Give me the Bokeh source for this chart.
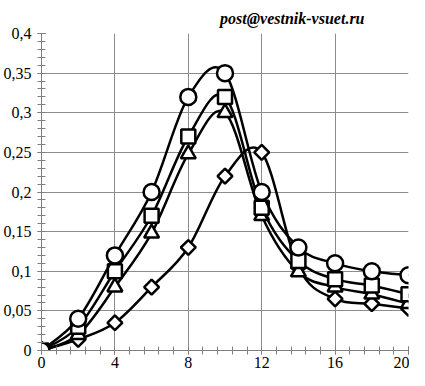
import numpy as np
from bokeh.plotting import figure
from bokeh.models import Range1d, FixedTicker, CustomJSTickFormatter
from bokeh.embed import file_html
from bokeh.resources import INLINE

# ---- data ----
x_vals = [0, 2, 4, 6, 8, 10, 12, 14, 16, 18, 20]
circles = [0, 0.040, 0.120, 0.200, 0.320, 0.350, 0.200, 0.130, 0.110, 0.100, 0.095]
squares = [0, 0.030, 0.100, 0.170, 0.270, 0.320, 0.180, 0.113, 0.090, 0.082, 0.071]
triangles = [0, 0.020, 0.080, 0.148, 0.248, 0.300, 0.170, 0.099, 0.080, 0.071, 0.059]
diamonds = [0, 0.014, 0.035, 0.080, 0.130, 0.220, 0.250, 0.105, 0.065, 0.059, 0.053]

x_ticks = [0, 4, 8, 12, 16, 20]
y_ticks = [0, 0.05, 0.1, 0.15, 0.2, 0.25, 0.3, 0.35, 0.4]
watermark = "post@vestnik-vsuet.ru"

SERIF = "Liberation Serif"

p = figure(width=409, height=370, output_backend="svg", toolbar_location=None,
           x_range=Range1d(0, 20), y_range=Range1d(0, 0.4),
           min_border_left=40, min_border_right=1, min_border_top=32, min_border_bottom=20)
p.outline_line_color = None
p.background_fill_color = "white"

p.title.text = watermark
p.title.align = "right"
p.title.offset = 44
p.title.text_font = SERIF
p.title.text_font_size = "16px"
p.title.text_font_style = "bold italic"
p.title.text_color = "black"
p.title.standoff = 14

# ticks
x_minor = list(np.round(np.arange(0, 20.0001, 0.8), 4))
y_minor = list(np.round(np.arange(0, 0.40001, 0.01), 4))
p.xaxis.ticker = FixedTicker(ticks=x_ticks, minor_ticks=x_minor)
p.yaxis.ticker = FixedTicker(ticks=y_ticks, minor_ticks=y_minor)
fmt = CustomJSTickFormatter(code="return String(Math.round(tick*100)/100).replace('.', ',');")
p.xaxis.formatter = fmt
p.yaxis.formatter = fmt

p.axis.axis_line_color = "#808080"
p.axis.axis_line_width = 1
p.axis.major_tick_line_color = "#808080"
p.axis.minor_tick_line_color = "#808080"
p.axis.major_tick_in = 4
p.axis.major_tick_out = 4
p.axis.minor_tick_in = 4
p.axis.minor_tick_out = 4
p.axis.major_label_text_font = SERIF
p.axis.major_label_text_font_size = "16px"
p.axis.major_label_text_color = "black"
p.xaxis.major_label_standoff = 2
p.yaxis.major_label_standoff = 6

p.xgrid.ticker = FixedTicker(ticks=x_ticks)
p.ygrid.ticker = FixedTicker(ticks=y_ticks)
p.grid.grid_line_color = "#8c8c8c"
p.grid.grid_line_width = 1


def smooth_segments(xs, ys):
    xs = np.asarray(xs, float)
    ys = np.asarray(ys, float)
    n = len(xs)
    x0, y0, x1, y1, cx0, cy0, cx1, cy1 = [], [], [], [], [], [], [], []
    for i in range(n - 1):
        ia = max(i - 1, 0)
        ib = min(i + 2, n - 1)
        x0.append(xs[i]); y0.append(ys[i])
        x1.append(xs[i + 1]); y1.append(ys[i + 1])
        cx0.append(xs[i] + (xs[i + 1] - xs[ia]) / 6.0)
        cy0.append(ys[i] + (ys[i + 1] - ys[ia]) / 6.0)
        cx1.append(xs[i + 1] - (xs[ib] - xs[i]) / 6.0)
        cy1.append(ys[i + 1] - (ys[ib] - ys[i]) / 6.0)
    return dict(x0=x0, y0=y0, x1=x1, y1=y1, cx0=cx0, cy0=cy0, cx1=cx1, cy1=cy1)


series = [
    (diamonds, dict(marker="square", size=10.5, angle=np.pi / 4)),
    (triangles, dict(marker="triangle", size=15)),
    (squares, dict(marker="square", size=14)),
    (circles, dict(marker="circle", size=16)),
]

for ys, mk in series:
    seg = smooth_segments(x_vals, ys)
    p.bezier(x0=seg["x0"], y0=seg["y0"], x1=seg["x1"], y1=seg["y1"],
             cx0=seg["cx0"], cy0=seg["cy0"], cx1=seg["cx1"], cy1=seg["cy1"],
             line_color="black", line_width=2.5)
    p.scatter(x=x_vals, y=ys, fill_color="white", line_color="black", line_width=2.5, **mk)

open("out.html", "w").write(file_html(p, INLINE))
